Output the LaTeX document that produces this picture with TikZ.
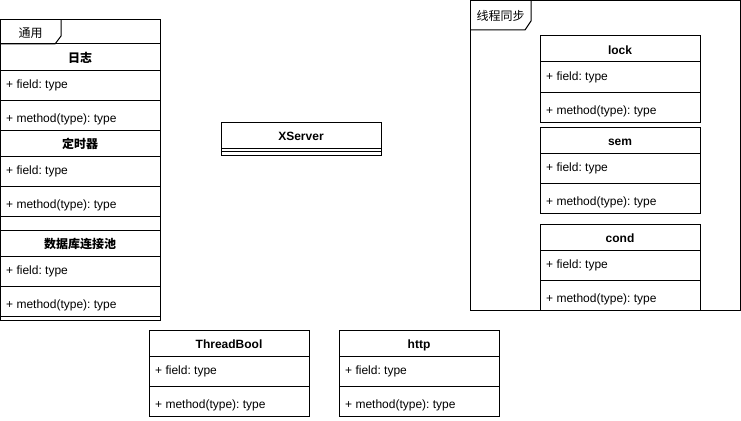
\documentclass[tikz,border=0pt]{standalone}
\usepackage{fontspec}
\setmainfont{Liberation Sans}
\newfontfamily\cjk{Noto Sans CJK SC}
\frenchspacing
\begin{document}
\begin{tikzpicture}[x=1pt,y=-1pt,
  ln/.style={line width=1pt},
  txt/.style={inner sep=0pt, font=\fontsize{12}{14}\selectfont\frenchspacing},
  hdr/.style={txt, font=\fontsize{12}{14}\selectfont\bfseries, anchor=base},
  lbl/.style={txt, anchor=base},
  fld/.style={txt, anchor=base west},
  clsbox/.style={draw, line width=1pt, minimum width=160pt, minimum height=86pt, inner sep=0pt, outer sep=0pt, anchor=north west}]
\newcommand\umlcls[4]{%
 \begin{scope}[shift={(#2,#3)}]
  \node[clsbox] (#1) at (0,0) {};
  \draw[ln] (0,26) -- (160,26);
  \draw[ln] (0,56) -- (160,56);
  \node[hdr] (#1-t) at (80,18.5) {#4};
  \node[fld] (#1-f) at (6,44.5) {+ field: type};
  \node[fld] (#1-m) at (6,78.5) {+ method(type): type};
 \end{scope}}
\useasboundingbox (0,0) rectangle (741,420);
% left frame
\node[draw, line width=1pt, inner sep=0pt, outer sep=0pt, minimum width=160pt, minimum height=300pt, anchor=north west] (frameL) at (0,20) {};
\draw[ln] (0,44) -- (55,44) -- (61,36) -- (61,20);
\node[lbl] (frameL-t) at (30.5,37.5) {\cjk 通用};
\umlcls{rizhi}{0}{44}{\cjk 日志}
\umlcls{timer}{0}{130}{\cjk 定时器}
\node[draw, line width=1pt, inner sep=0pt, outer sep=0pt, minimum width=160pt, minimum height=14pt, anchor=north west] (timergap) at (0,216) {};
\umlcls{dbpool}{0}{230}{\cjk 数据库连接池}
% right frame
\node[draw, line width=1pt, inner sep=0pt, outer sep=0pt, minimum width=270pt, minimum height=309pt, anchor=north west] (frameR) at (470,1) {};
\draw[ln] (470,30) -- (525,30) -- (531,21) -- (531,1);
\node[lbl] (frameR-t) at (500.5,21) {\cjk 线程同步};
\umlcls{lock}{540}{36}{lock}
\umlcls{sem}{540}{127}{sem}
\umlcls{cond}{540}{224}{cond}
% XServer
\node[draw, line width=1pt, inner sep=0pt, outer sep=0pt, minimum width=160pt, minimum height=33pt, anchor=north west] (xserver) at (221,122) {};
\draw[ln] (221,148) -- (381,148);
\draw[ln] (221,151) -- (381,151);
\node[hdr] (xserver-t) at (301,140.5) {XServer};
% bottom classes
\umlcls{threadbool}{149}{330}{ThreadBool}
\umlcls{http}{339}{330}{http}
\end{tikzpicture}
\end{document}
